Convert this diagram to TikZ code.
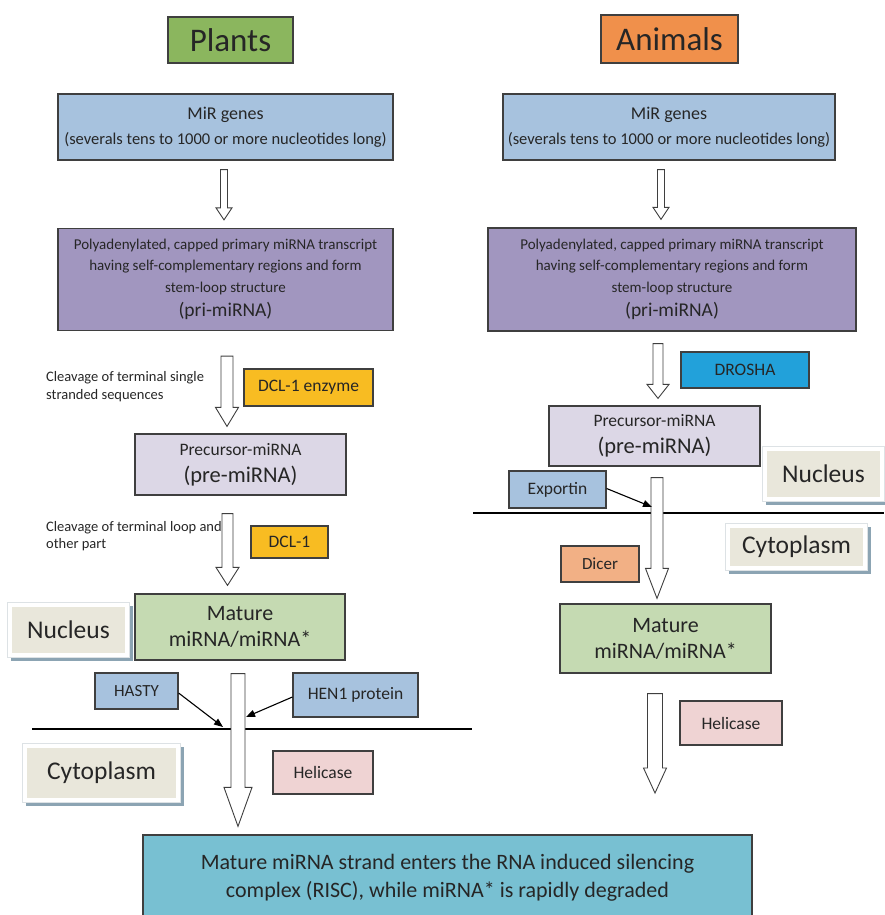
\documentclass[tikz,border=0pt]{standalone}
\usepackage{fontspec}
\setmainfont{Carlito}
\usetikzlibrary{calc,arrows.meta}
\definecolor{bordc}{HTML}{3F3F3F}
\definecolor{textc}{HTML}{262626}
\definecolor{plantsc}{HTML}{8BB65E}
\definecolor{animc}{HTML}{F0904B}
\definecolor{bluec}{HTML}{A7C2DE}
\definecolor{purplec}{HTML}{A196BF}
\definecolor{yellowc}{HTML}{F8BC22}
\definecolor{lavc}{HTML}{DCD7E6}
\definecolor{greenc}{HTML}{C5DAB2}
\definecolor{regfill}{HTML}{E9E7DB}
\definecolor{regshadow}{HTML}{8CA4B3}
\definecolor{framec}{HTML}{DDE2E5}
\definecolor{pinkc}{HTML}{EFD3D3}
\definecolor{droshac}{HTML}{22A1DA}
\definecolor{dicerc}{HTML}{F2B085}
\definecolor{riscc}{HTML}{78C0D2}
\newcommand\fs[2]{\fontsize{#1}{#2}\selectfont}
\newcommand\regionbox[6]{%
  \fill[regshadow] (#2-#4/2-1.5,#3-#5/2-1.5) rectangle (#2+#4/2+7.5,#3+#5/2+7.5);
  \filldraw[fill=white,draw=framec,line width=0.5pt] (#2-#4/2-4.5,#3-#5/2-4.5) rectangle (#2+#4/2+4.5,#3+#5/2+4.5);
  \node[region,minimum width=#4pt,minimum height=#5pt] (#1) at (#2,#3) {#6};}
\tikzset{
  box/.style={draw=bordc, line width=1.2pt, inner sep=0pt, align=center, text=textc},
  region/.style={fill=regfill, inner sep=0pt, text=textc, font=\fs{25.5}{30}},
  label/.style={inner sep=0pt, align=left, anchor=west, text=textc, font=\fs{14.5}{17.5}},
  barrow/.style n args={3}{draw=bordc, fill=white, line width=0.9pt, line join=miter,
    to path={let \p1=(\tikztostart), \p2=(\tikztotarget) in
      (\x1-#1,\y1) -- (\x1+#1,\y1) -- (\x1+#1,\y2+#3) -- (\x1+#2,\y2+#3) -- (\x1,\y2)
      -- (\x1-#2,\y2+#3) -- (\x1-#1,\y2+#3) -- cycle}},
  ptr/.style={draw=black, line width=1.1pt, -{Triangle[length=9pt,width=7pt]}},
  membrane/.style={draw=black, line width=2.8pt}
}
\begin{document}
\begin{tikzpicture}[x=1pt,y=-1pt]
\useasboundingbox (0,0) rectangle (884,915);
% titles
\node[box, fill=plantsc, minimum width=125pt, minimum height=46pt, font=\fs{33}{38}] (plants) at (230.5,40) {Plants};
\node[box, fill=animc, minimum width=137pt, minimum height=48pt, font=\fs{33}{38}] (animals) at (669.5,39) {Animals};
% MiR genes
\node[box, fill=bluec, minimum width=335pt, minimum height=66pt, font=\fs{16.5}{25}] (mirL) at (225.5,127) {{\fs{18}{25}MiR genes}\\(severals tens to 1000 or more nucleotides long)};
\node[box, fill=bluec, minimum width=332pt, minimum height=66pt, font=\fs{16.5}{25}] (mirR) at (669,127) {{\fs{18}{25}MiR genes}\\(severals tens to 1000 or more nucleotides long)};
% pri-miRNA
\node[box, fill=purplec, minimum width=335pt, minimum height=102pt, font=\fs{15}{21.5}] (priL) at (225.5,279.5) {Polyadenylated, capped primary miRNA transcript\\having self-complementary regions and form\\stem-loop structure\\[3pt]{\fs{19.5}{22}(pri-miRNA)}};
\node[box, fill=purplec, minimum width=368pt, minimum height=103pt, font=\fs{15}{21.5}] (priR) at (672,279.5) {Polyadenylated, capped primary miRNA transcript\\having self-complementary regions and form\\stem-loop structure\\[3pt]{\fs{19.5}{22}(pri-miRNA)}};
% plants column
\node[label] (cleav1) at (46,386.5) {Cleavage of terminal single\\stranded sequences};
\node[box, fill=yellowc, minimum width=129pt, minimum height=37pt, font=\fs{17.5}{21}] (dcle) at (308.5,387.5) {DCL-1 enzyme};
\node[box, fill=lavc, minimum width=211pt, minimum height=61pt, font=\fs{17.5}{25}] (precL) at (240.5,464.5) {Precursor-miRNA\\[2pt]{\fs{22.5}{25}(pre-miRNA)}};
\node[label] (cleav2) at (46,536) {Cleavage of terminal loop and\\other part};
\node[box, fill=yellowc, minimum width=77pt, minimum height=32pt, font=\fs{17.5}{21}] (dcl) at (289.5,542) {DCL-1};
\node[box, fill=greenc, minimum width=210pt, minimum height=66pt, font=\fs{22}{26}] (matL) at (240,627) {Mature\\miRNA/miRNA*};
\regionbox{nucL}{68.5}{630}{113}{46}{Nucleus}
\node[box, fill=bluec, minimum width=83pt, minimum height=36pt, font=\fs{17}{21}] (hasty) at (136.5,691) {HASTY};
\node[box, fill=bluec, minimum width=125pt, minimum height=44pt, font=\fs{17.5}{21}] (hen) at (355.5,695) {HEN1 protein};
\regionbox{cytL}{101.5}{773}{149}{50}{Cytoplasm}
\node[box, fill=pinkc, minimum width=100pt, minimum height=43pt, font=\fs{17.5}{21}] (helL) at (323,772.5) {Helicase};
\node[box, fill=riscc, minimum width=609pt, minimum height=85pt, font=\fs{22}{28}] (risc) at (447.5,877.5) {Mature miRNA strand enters the RNA induced silencing\\complex (RISC), while miRNA* is rapidly degraded};
% animals column
\node[box, fill=droshac, minimum width=128pt, minimum height=36pt, font=\fs{17.5}{21}] (drosha) at (745,370) {DROSHA};
\node[box, fill=lavc, minimum width=211pt, minimum height=60pt, font=\fs{17.5}{25}] (precR) at (654.5,436) {Precursor-miRNA\\[2pt]{\fs{22.5}{25}(pre-miRNA)}};
\regionbox{nucR}{823.5}{474}{113}{46}{Nucleus}
\node[box, fill=bluec, minimum width=97pt, minimum height=37pt, font=\fs{17.5}{21}] (exportin) at (557.5,489.5) {Exportin};
\regionbox{cytR}{796.5}{547}{133}{38}{Cytoplasm}
\node[box, fill=dicerc, minimum width=78pt, minimum height=36pt, font=\fs{17}{21}] (dicer) at (600,564) {Dicer};
\node[box, fill=greenc, minimum width=211pt, minimum height=69pt, font=\fs{22}{26}] (matR) at (665.5,638.5) {Mature\\miRNA/miRNA*};
\node[box, fill=pinkc, minimum width=102pt, minimum height=44pt, font=\fs{17.5}{21}] (helR) at (731,723) {Helicase};
% membranes
\coordinate (memL1) at (32,729);
\coordinate (memL2) at (472,729);
\coordinate (memR1) at (473,513);
\coordinate (memR2) at (884,513);
\draw[membrane] (memL1) -- (memL2);
\draw[membrane] (memR1) -- (memR2);
% block arrows (plants)
\draw[barrow={3.5pt}{8pt}{12pt}] ([xshift=-1.5pt,yshift=-9pt]mirL.south) to ([yshift=8pt]priL.north);
\draw[barrow={6pt}{11.5pt}{19pt}] ([xshift=1.5pt,yshift=-25pt]priL.south) to ([yshift=7pt]precL.north);
\draw[barrow={5.5pt}{11.5pt}{18pt}] ([xshift=-13pt,yshift=-18pt]precL.south) to ([yshift=8pt]matL.north);
\draw[barrow={7pt}{14pt}{39pt}] ([xshift=-2pt,yshift=-13pt]matL.south) to ([yshift=8pt]risc.north);
% block arrows (animals)
\draw[barrow={3.5pt}{8pt}{12pt}] ([xshift=-8pt,yshift=-9pt]mirR.south) to ([yshift=8pt]priR.north);
\draw[barrow={5pt}{11pt}{14pt}] ([xshift=-14pt,yshift=-12pt]priR.south) to ([yshift=7pt]precR.north);
\draw[barrow={6pt}{11.5pt}{30pt}] ([xshift=2.5pt,yshift=-11pt]precR.south) to ([yshift=5pt]matR.north);
\coordinate (endR) at (655,793);
\draw[barrow={7.5pt}{11.5pt}{25pt}] ([xshift=-10.5pt,yshift=-20pt]matR.south) to (endR);
% pointer arrows
\coordinate (hastyEnd) at (223,727);
\coordinate (henEnd) at (246,717);
\coordinate (expEnd) at (652,507);
\draw[ptr] ([yshift=-2pt]hasty.east) -- (hastyEnd);
\draw[ptr] ([yshift=-2pt]hen.west) -- (henEnd);
\draw[ptr] ([yshift=1pt]exportin.east) -- (expEnd);
\end{tikzpicture}
\end{document}
